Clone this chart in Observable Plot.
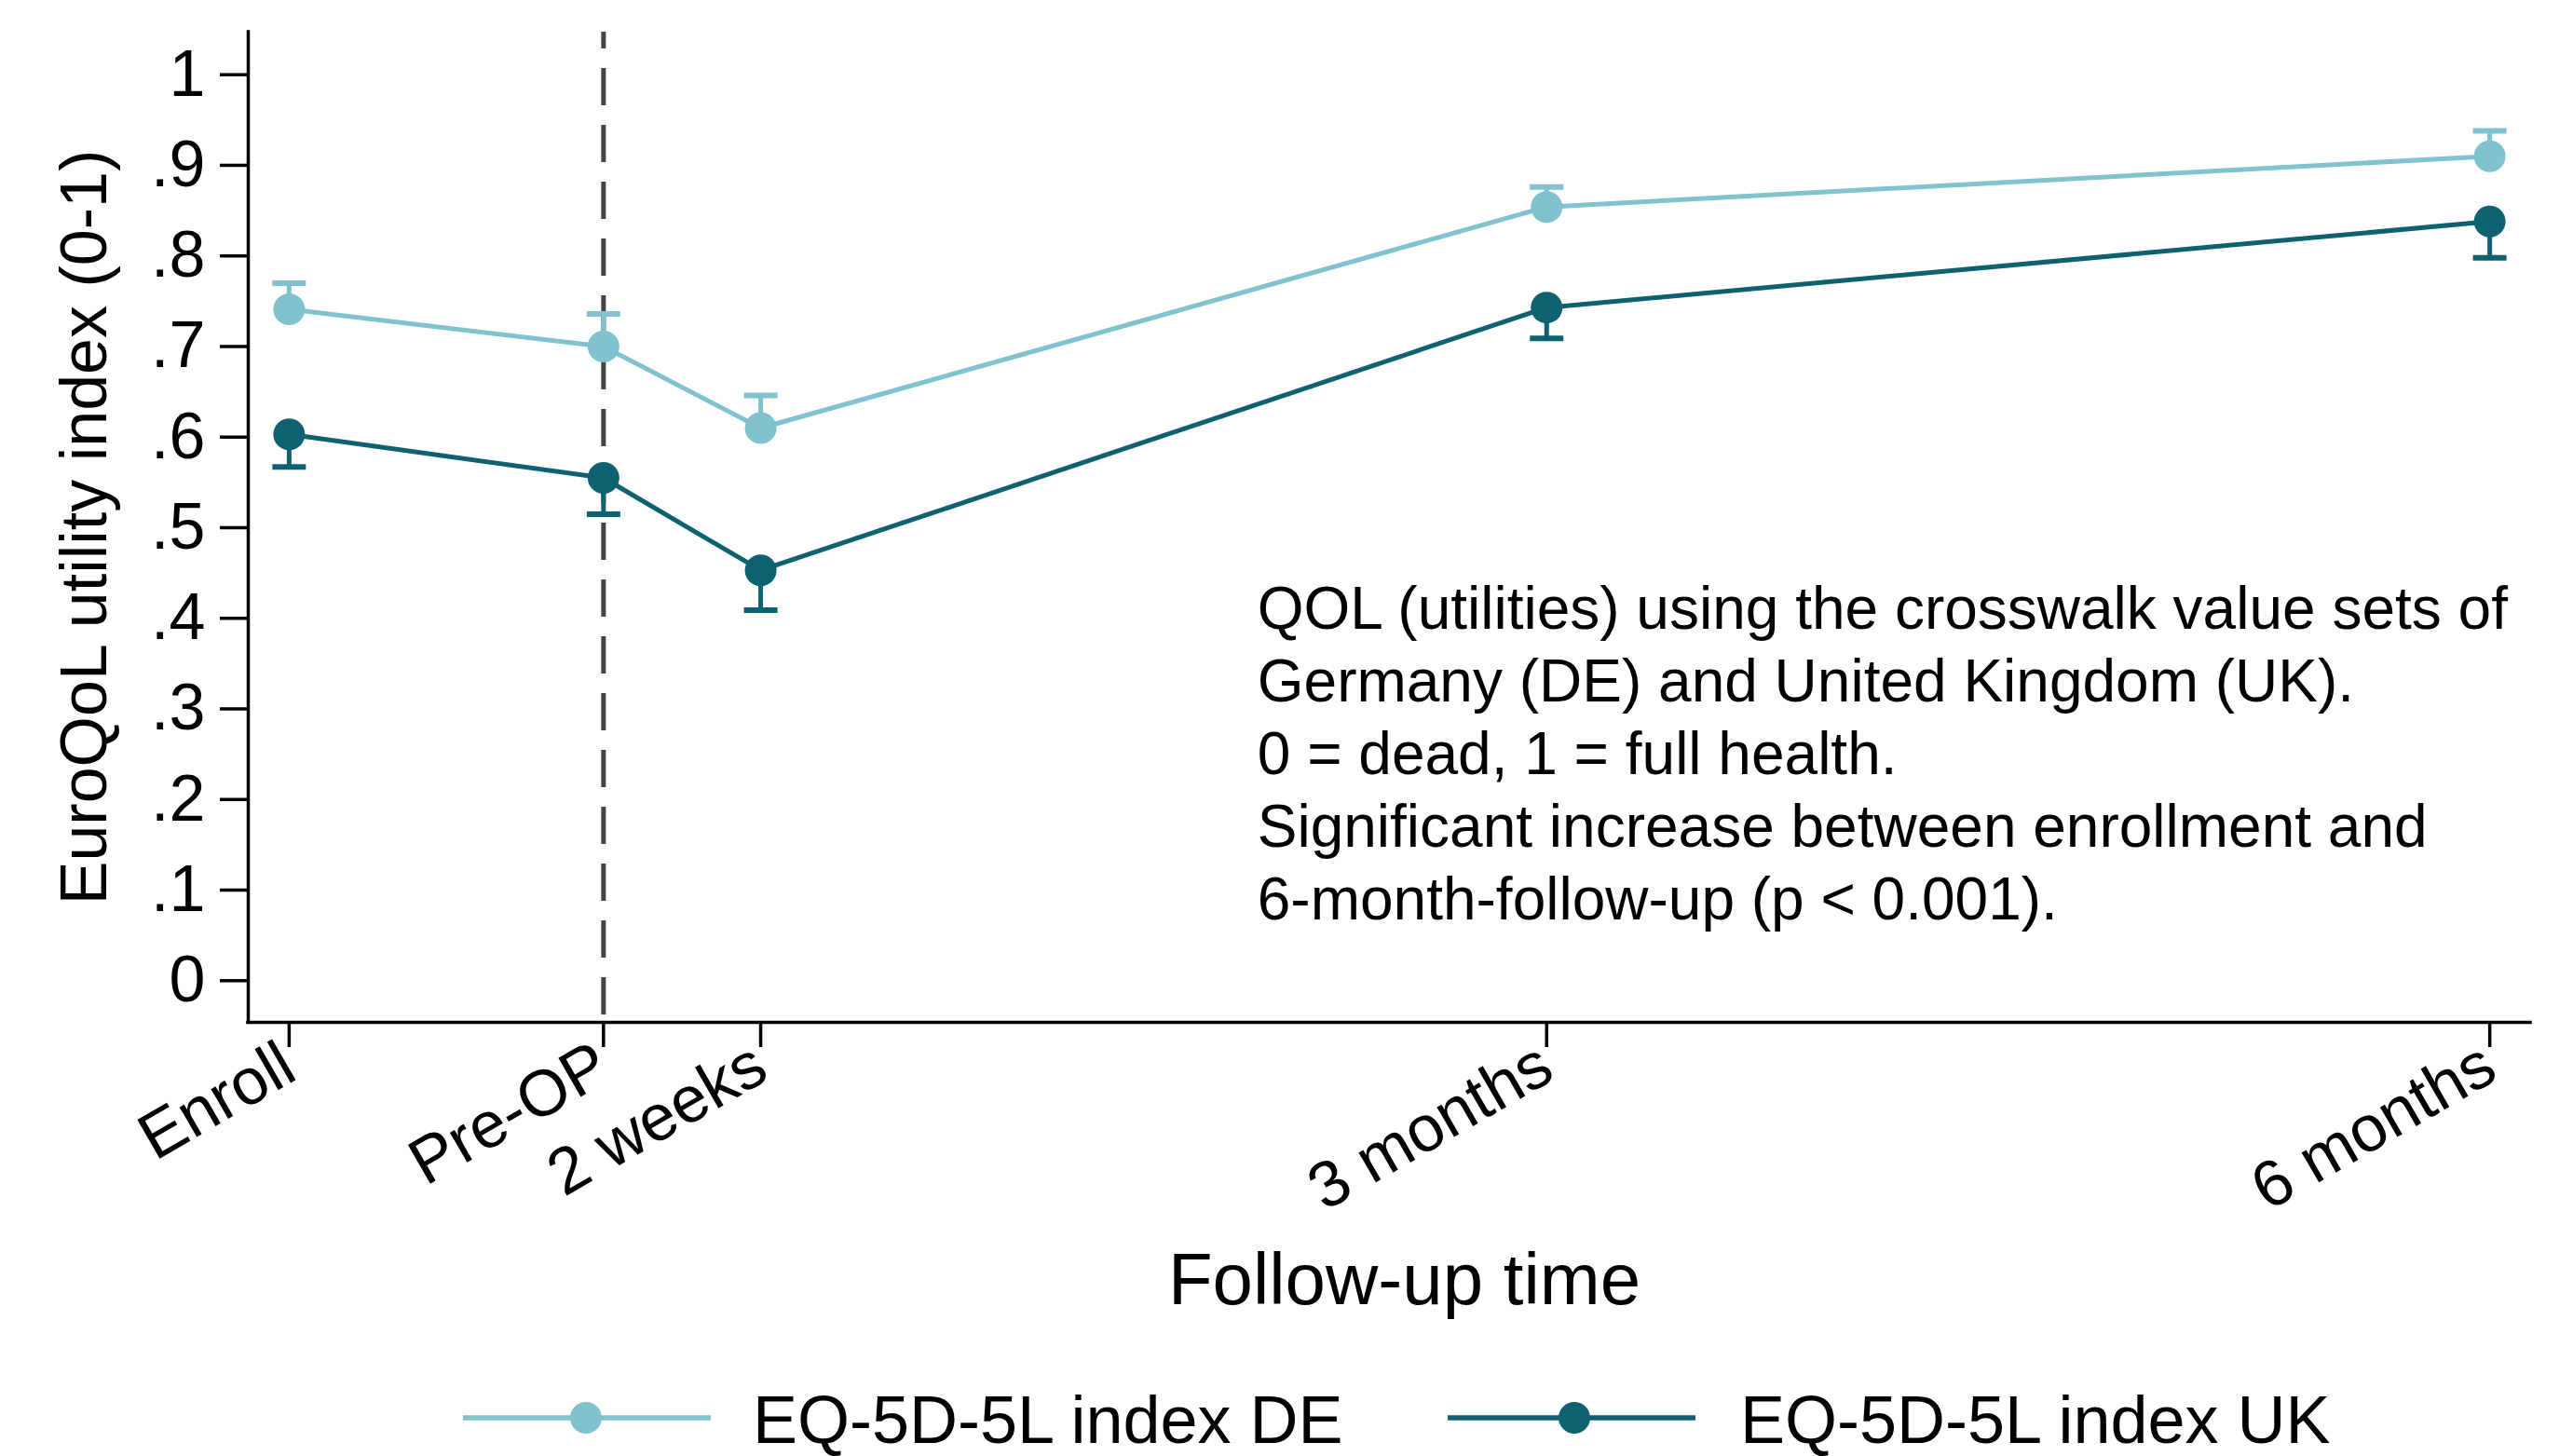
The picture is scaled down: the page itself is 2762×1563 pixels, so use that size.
<!DOCTYPE html>
<html>
<head>
<meta charset="utf-8">
<script src="https://cdn.jsdelivr.net/npm/d3@7"></script>
<script src="https://cdn.jsdelivr.net/npm/@observablehq/plot@0.6"></script>
<style>
  html, body { margin: 0; padding: 0; background: #fff; }
  body { width: 2762px; height: 1563px; overflow: hidden; font-family: "Liberation Sans", Arial, sans-serif; color: #000; }
  #chart svg { display: block; }
  #legend { position: relative; width: 2762px; height: 123px; }
  .item { position: absolute; top: 0; height: 123px; display: flex; align-items: center; }
  .item span { font-size: 72px; line-height: 1; white-space: nowrap; position: relative; top: 2px; }
</style>
</head>
<body>
<div id="chart"></div>
<div id="legend"></div>
<script>
// ---- data ----
const timeLabels = ["Enroll", "Pre-OP", "2 weeks", "3 months", "6 months"];
const timeMonths = [-1, 0, 0.5, 3, 6];            // follow-up time (months, 0 = surgery)
const deMean  = [0.741, 0.700, 0.610, 0.854, 0.910];
const deUpper = [0.770, 0.736, 0.646, 0.876, 0.938];
const ukMean  = [0.603, 0.555, 0.453, 0.743, 0.838];
const ukLower = [0.567, 0.515, 0.409, 0.709, 0.798];
const seriesNames  = ["EQ-5D-5L index DE", "EQ-5D-5L index UK"];
const seriesColors = ["#80c3cf", "#0d6170"];
const yTicks      = [0, 0.1, 0.2, 0.3, 0.4, 0.5, 0.6, 0.7, 0.8, 0.9, 1];
const yTickLabels = ["0", ".1", ".2", ".3", ".4", ".5", ".6", ".7", ".8", ".9", "1"];
const xDomain = [-1.13, 6.13];
const yDomain = [-0.046, 1.047];
const surgeryMonth = [0];                          // dashed reference line at Pre-OP
const xTitle = "Follow-up time";
const yTitle = "EuroQoL utility index (0-1)";
const noteLines = [
  "QOL (utilities) using the crosswalk value sets of",
  "Germany (DE) and United Kingdom (UK).",
  "0 = dead, 1 = full health.",
  "Significant increase between enrollment and",
  "6-month-follow-up (p < 0.001)."
];
const noteX = 2.08, noteY = 0.445;

// ---- table built from the arrays ----
const rows = [];
timeMonths.forEach((t, i) => {
  rows.push({t, series: seriesNames[0], mean: deMean[i], ci: deUpper[i]});
  rows.push({t, series: seriesNames[1], mean: ukMean[i], ci: ukLower[i]});
});

const capSymbol = {
  draw(context, size) {
    const w = Math.sqrt(size / Math.PI);
    context.moveTo(-w, 0);
    context.lineTo(w, 0);
  }
};

const font = "Liberation Sans, Arial, sans-serif";

const chart = Plot.plot({
  width: 2762,
  height: 1440,
  marginLeft: 266,
  marginRight: 46,
  marginTop: 34,
  marginBottom: 343,
  style: {fontFamily: font, fontSize: "70px", color: "#000", background: "#fff", overflow: "visible"},
  x: {domain: xDomain},
  y: {domain: yDomain},
  color: {domain: seriesNames, range: seriesColors},
  marks: [
    Plot.ruleX(surgeryMonth, {stroke: "#444", strokeWidth: 5, strokeDasharray: "40,21", strokeDashoffset: 22}),
    Plot.ruleY([yDomain[0]], {stroke: "#000", strokeWidth: 3.5, strokeLinecap: "square"}),
    Plot.ruleX([xDomain[0]], {stroke: "#000", strokeWidth: 3.5, strokeLinecap: "square"}),
    Plot.axisY({
      ticks: yTicks,
      tickFormat: d => yTickLabels[yTicks.indexOf(d)],
      tickSize: 30, tickPadding: 16, strokeWidth: 3.5,
      fontSize: 70, label: null
    }),
    Plot.axisX({
      ticks: timeMonths,
      tickFormat: d => timeLabels[timeMonths.indexOf(d)],
      tickSize: 27, tickPadding: 13, tickRotate: -30, strokeWidth: 3.5,
      fontSize: 70, label: null
    }),
    Plot.ruleX(rows, {x: "t", y1: "mean", y2: "ci", stroke: "series", strokeWidth: 5}),
    Plot.dot(rows, {x: "t", y: "ci", r: 18, symbol: capSymbol, fill: "none", stroke: "series", strokeWidth: 6}),
    Plot.line(rows, {x: "t", y: "mean", z: "series", stroke: "series", strokeWidth: 5}),
    Plot.dot(rows, {x: "t", y: "mean", r: 17, fill: "series", stroke: "none"}),
    Plot.text([noteLines.join("\n")], {
      x: noteX, y: noteY, text: d => d,
      textAnchor: "start", lineAnchor: "top", fontSize: 64, lineHeight: 78 / 64, fill: "#000"
    }),
    Plot.text([xTitle], {frameAnchor: "bottom", dy: 278, dx: 16, text: d => d,
      textAnchor: "middle", lineAnchor: "middle", fontSize: 78, fill: "#000"}),
    Plot.text([yTitle], {frameAnchor: "left", dx: -175, rotate: -90, text: d => d,
      textAnchor: "middle", lineAnchor: "middle", fontSize: 70, fill: "#000"})
  ]
});
document.getElementById("chart").appendChild(chart);

// ---- legend below the chart ----
const legendLayout = [
  {swatchLeft: 497, markerAt: 132, textLeft: 808},
  {swatchLeft: 1554, markerAt: 136, textLeft: 1868}
];
const legend = document.getElementById("legend");
seriesNames.forEach((name, i) => {
  const L = legendLayout[i];
  const sw = document.createElement("div");
  sw.className = "item";
  sw.style.left = L.swatchLeft + "px";
  sw.style.top = "20px";
  sw.innerHTML = `<svg width="266" height="40" style="display:block">
      <line x1="0" x2="266" y1="20" y2="20" stroke="${seriesColors[i]}" stroke-width="5.5"/>
      <circle cx="${L.markerAt}" cy="20" r="17" fill="${seriesColors[i]}"/></svg>`;
  legend.appendChild(sw);
  const tx = document.createElement("div");
  tx.className = "item";
  tx.style.left = L.textLeft + "px";
  tx.style.top = "20px";
  tx.innerHTML = `<span>${name}</span>`;
  legend.appendChild(tx);
});
</script>
</body>
</html>
